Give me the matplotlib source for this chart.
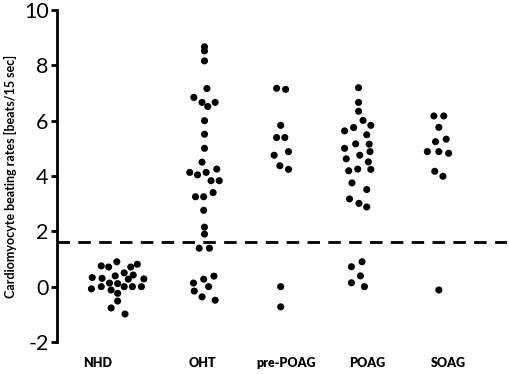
import matplotlib
matplotlib.use("Agg")
from matplotlib import pyplot as plt

plt.rcParams['font.family'] = ['Lato', 'DejaVu Sans']

# groups and tick labels
grupos = ["NHD", "OHT", "pre-POAG", "POAG", "SOAG"]
pos_grupos = [1, 2, 3, 4, 5]
pos_etiquetas = [0.71, 2, 3.02, 4, 5]

# beating rates per group
nhd = [0.75, 0.71, 0.90, 0.71, 0.81, 0.33, 0.30, 0.39, 0.50, 0.42, 0.28, -0.08,
       0.0, 0.13, 0.11, 0.27, 0.0, 0.0, 0.0, -0.12, -0.24, -0.52, -0.77, -0.99]
oht = [8.67, 8.52, 8.16, 7.16, 6.84, 6.66, 6.51, 6.66, 6.0, 5.51, 5.0, 4.50,
       4.13, 4.04, 4.13, 4.25, 3.83, 3.83, 3.25, 3.25, 3.40, 2.76, 2.15, 1.90,
       1.39, 1.39, 0.38, 0.27, 0.13, 0.0, -0.16, -0.37, -0.49]
pre_poag = [7.17, 7.13, 5.83, 5.39, 5.39, 4.75, 4.88, 4.37, 4.24, 0.0, -0.73]
poag = [7.19, 6.66, 6.34, 6.01, 5.83, 5.75, 5.63, 5.49, 5.16, 5.15, 5.0, 4.88,
        4.75, 4.62, 4.51, 4.19, 4.25, 4.24, 3.75, 3.51, 3.17, 3.01, 2.88, 0.90,
        0.72, 0.39, 0.14, 0.0]
soag = [6.17, 6.17, 5.76, 5.24, 5.33, 4.88, 4.88, 4.82, 4.17, 3.99, -0.12]

# horizontal jitter of the dots (category units)
jit_nhd = [-0.24, -0.15, -0.05, 0.12, 0.20, -0.35, -0.23, -0.07, 0.04, 0.15, 0.28, -0.36,
           -0.24, -0.14, -0.04, 0.09, 0.04, 0.14, 0.25, -0.12, -0.04, -0.04, -0.12, 0.05]
jit_oht = [0.02, 0.02, 0.02, 0.05, -0.11, -0.01, 0.06, 0.15, 0.02, 0.02, 0.02, -0.01,
           -0.16, -0.065, 0.04, 0.17, 0.10, 0.20, -0.09, 0.01, 0.125, 0.01, 0.02, 0.02,
           -0.045, 0.08, 0.135, 0.01, -0.115, 0.07, -0.105, -0.01, 0.15]
jit_pre = [-0.10, 0.01, -0.05, -0.10, 0.0, -0.13, 0.045, -0.06, 0.045, -0.05, -0.05]
jit_poag = [-0.10, -0.10, -0.10, -0.045, 0.05, -0.16, -0.27, 0.0, -0.135, 0.03, -0.27, 0.04,
            -0.085, -0.25, 0.02, -0.22, -0.11, 0.05, -0.18, 0.0, -0.21, -0.095, 0.0, -0.057,
            -0.187, -0.077, -0.187, -0.028]
jit_soag = [-0.18, -0.06, -0.12, -0.16, -0.03, -0.26, -0.12, 0.0, -0.17, -0.07, -0.12]

umbral = 1.6

valores = [nhd, oht, pre_poag, poag, soag]
jitters = [jit_nhd, jit_oht, jit_pre, jit_poag, jit_soag]

fig = plt.figure(figsize=(5.1, 3.74), dpi=100)
ax = fig.add_axes([0.1118, 0.0856, 0.882, 0.8877])

for p, ys, js in zip(pos_grupos, valores, jitters):
    xs = [p + j for j in js]
    ax.scatter(xs, ys, s=26, color='black', edgecolors='none', zorder=3)

ax.axhline(umbral, color='black', lw=2, linestyle=(0, (4.5, 3)))

ax.set_xlim(0.22, 5.71)
ax.set_ylim(-2, 10)
ax.set_yticks(range(-2, 11, 2))
ax.set_yticklabels([str(v) for v in range(-2, 11, 2)], fontsize=15.5)
ax.set_xticks(pos_etiquetas)
ax.set_xticklabels(grupos, fontsize=9, fontweight='heavy')

ax.spines['top'].set_visible(False)
ax.spines['right'].set_visible(False)
ax.spines['bottom'].set_visible(False)
ax.spines['left'].set_linewidth(2)
ax.tick_params(axis='y', direction='out', length=4, width=2, pad=2)
ax.tick_params(axis='x', length=0, pad=11)

ax.set_ylabel("Cardiomyocyte beating rates [beats/15 sec]", fontsize=9, fontweight='bold', labelpad=5)

plt.savefig("out.png", dpi=100)
